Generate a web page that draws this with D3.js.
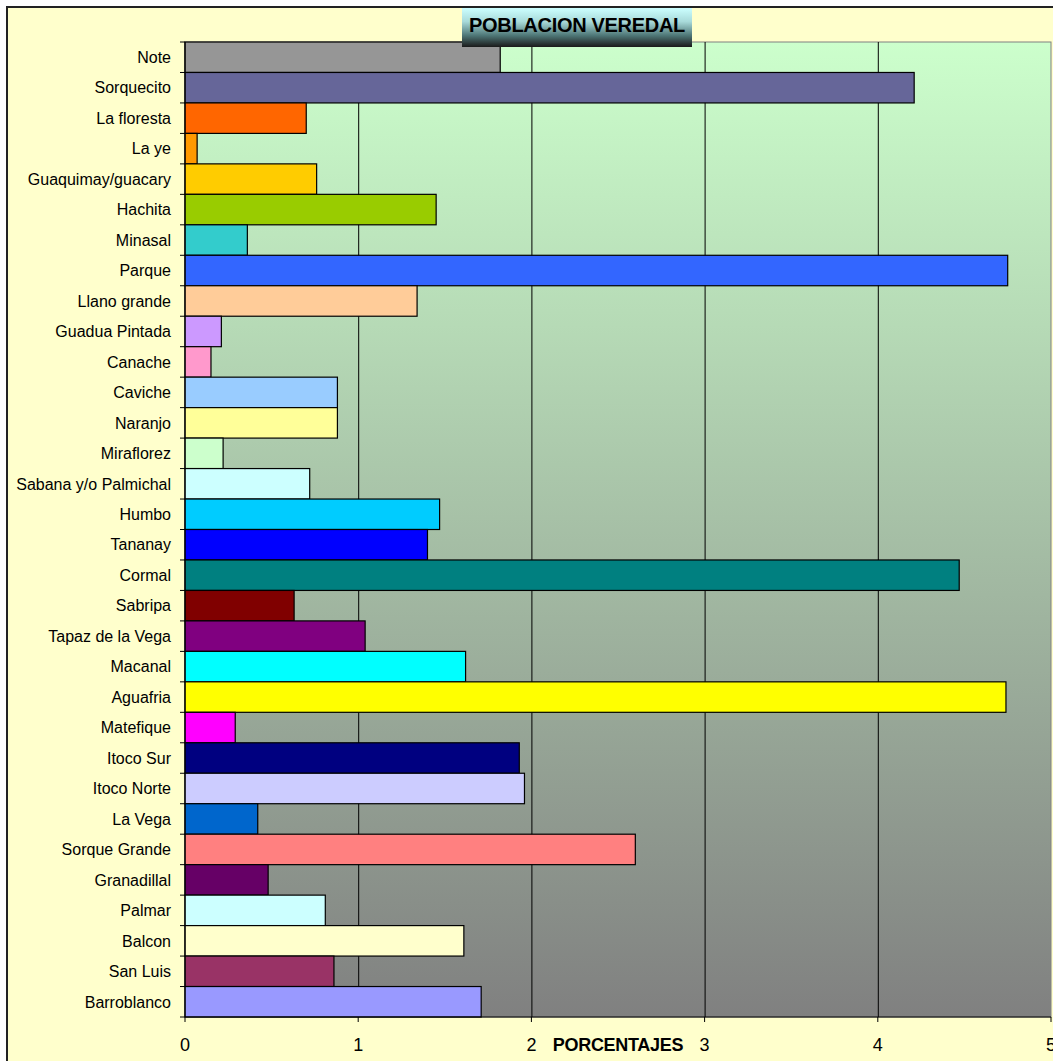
<!DOCTYPE html>
<meta charset="utf-8">
<style>
  body { margin: 0; background: #fff; }
  svg { display: block; font-family: Arial, "Liberation Sans", sans-serif; }
</style>
<body>
<svg width="1053" height="1061"></svg>
<script src="https://d3js.org/d3.v7.min.js"></script>
<script>
// categories, top to bottom as drawn
var veredas = ["Note", "Sorquecito", "La floresta", "La ye", "Guaquimay/guacary", "Hachita",
  "Minasal", "Parque", "Llano grande", "Guadua Pintada", "Canache", "Caviche", "Naranjo",
  "Miraflorez", "Sabana y/o Palmichal", "Humbo", "Tananay", "Cormal", "Sabripa",
  "Tapaz de la Vega", "Macanal", "Aguafria", "Matefique", "Itoco Sur", "Itoco Norte",
  "La Vega", "Sorque Grande", "Granadillal", "Palmar", "Balcon", "San Luis", "Barroblanco"];

var porcentajes = [1.82, 4.21, 0.70, 0.07, 0.76, 1.45,
  0.36, 4.75, 1.34, 0.21, 0.15, 0.88, 0.88,
  0.22, 0.72, 1.47, 1.40, 4.47, 0.63,
  1.04, 1.62, 4.74, 0.29, 1.93, 1.96,
  0.42, 2.60, 0.48, 0.81, 1.61, 0.86, 1.71];

var colores = ["#969696", "#666699", "#FF6600", "#FF9900", "#FFCC00", "#99CC00",
  "#33CCCC", "#3366FF", "#FFCC99", "#CC99FF", "#FF99CC", "#99CCFF", "#FFFF99",
  "#CCFFCC", "#CCFFFF", "#00CCFF", "#0000FF", "#008080", "#800000",
  "#800080", "#00FFFF", "#FFFF00", "#FF00FF", "#000080", "#CCCCFF",
  "#0066CC", "#FF8080", "#660066", "#CCFFFF", "#FFFFCC", "#993366", "#9999FF"];

var xTicks = [0, 1, 2, 3, 4, 5];

var svg = d3.select("svg");
var plotLeft = 185, plotRight = 1051, plotTop = 42, plotBottom = 1017;

var defs = svg.append("defs");
var bg = defs.append("linearGradient").attr("id", "plotbg")
    .attr("x1", 0).attr("y1", 0).attr("x2", 0).attr("y2", 1);
bg.append("stop").attr("offset", "0%").attr("stop-color", "#CCFFCC");
bg.append("stop").attr("offset", "100%").attr("stop-color", "#808080");

var tg = defs.append("linearGradient").attr("id", "titlebg")
    .attr("x1", 0).attr("y1", 0).attr("x2", 0).attr("y2", 1);
tg.append("stop").attr("offset", "0%").attr("stop-color", "#CCFFFF");
tg.append("stop").attr("offset", "35%").attr("stop-color", "#A8DADA");
tg.append("stop").attr("offset", "70%").attr("stop-color", "#4F7878");
tg.append("stop").attr("offset", "100%").attr("stop-color", "#1A1A1A");

// outer chart frame (runs off the picture at right and bottom)
svg.append("rect")
    .attr("x", 7).attr("y", 7).attr("width", 1100).attr("height", 1100)
    .attr("fill", "#FFFFCC").attr("stroke", "#222").attr("stroke-width", 2);

var x = d3.scaleLinear().domain([0, 5]).range([plotLeft, plotRight]);
var y = d3.scaleBand().domain(veredas).range([plotTop, plotBottom]).padding(0);

svg.append("rect")
    .attr("x", plotLeft).attr("y", plotTop)
    .attr("width", plotRight - plotLeft).attr("height", plotBottom - plotTop)
    .attr("fill", "url(#plotbg)").attr("stroke", "#808080");

// gridlines
svg.append("g").selectAll("line")
    .data(xTicks.filter(function(d) { return d > 0 && d < 5; }))
    .enter().append("line")
    .attr("x1", function(d) { return x(d) + 0.5; })
    .attr("x2", function(d) { return x(d) + 0.5; })
    .attr("y1", plotTop).attr("y2", plotBottom)
    .attr("stroke", "#000");

// bars
svg.append("g").selectAll("rect")
    .data(veredas)
    .enter().append("rect")
    .attr("x", x(0))
    .attr("y", function(d) { return y(d); })
    .attr("width", function(d, i) { return x(porcentajes[i]) - x(0); })
    .attr("height", y.bandwidth())
    .attr("fill", function(d, i) { return colores[i]; })
    .attr("stroke", "#000").attr("stroke-width", 1.2);

// y axis
var yAxis = svg.append("g")
    .attr("transform", "translate(" + plotLeft + ",0)");
yAxis.append("line")
    .attr("x1", 0).attr("x2", 0).attr("y1", plotTop).attr("y2", plotBottom)
    .attr("stroke", "#000");
yAxis.selectAll("line.tick")
    .data(d3.range(veredas.length + 1))
    .enter().append("line").attr("class", "tick")
    .attr("x1", -5).attr("x2", 0)
    .attr("y1", function(i) { return plotTop + i * y.step(); })
    .attr("y2", function(i) { return plotTop + i * y.step(); })
    .attr("stroke", "#000");
yAxis.selectAll("text")
    .data(veredas)
    .enter().append("text")
    .attr("x", -14)
    .attr("y", function(d) { return y(d) + y.bandwidth() / 2; })
    .attr("dy", "0.36em")
    .attr("text-anchor", "end")
    .attr("font-size", 16)
    .attr("fill", "#000")
    .text(function(d) { return d; });

// x axis
var xAxis = svg.append("g")
    .attr("transform", "translate(0," + plotBottom + ")");
xAxis.append("line")
    .attr("x1", plotLeft).attr("x2", plotRight).attr("y1", 0).attr("y2", 0)
    .attr("stroke", "#000");
xAxis.selectAll("line.tick")
    .data(xTicks)
    .enter().append("line").attr("class", "tick")
    .attr("x1", function(d) { return x(d); })
    .attr("x2", function(d) { return x(d); })
    .attr("y1", 0).attr("y2", 5)
    .attr("stroke", "#000");
xAxis.selectAll("text")
    .data(xTicks)
    .enter().append("text")
    .attr("x", function(d) { return x(d); })
    .attr("y", 34)
    .attr("text-anchor", "middle")
    .attr("font-size", 18)
    .text(function(d) { return d; });

svg.append("text")
    .attr("x", 618).attr("y", plotBottom + 34)
    .attr("text-anchor", "middle")
    .attr("font-size", 18).attr("font-weight", "bold")
    .attr("letter-spacing", -0.3)
    .text("PORCENTAJES");

// title box
svg.append("rect")
    .attr("x", 462).attr("y", 8).attr("width", 230).attr("height", 39)
    .attr("fill", "url(#titlebg)");
svg.append("text")
    .attr("x", 577).attr("y", 32)
    .attr("text-anchor", "middle")
    .attr("font-size", 20).attr("font-weight", "bold")
    .attr("letter-spacing", -0.3)
    .text("POBLACION VEREDAL");
</script>
</body>
